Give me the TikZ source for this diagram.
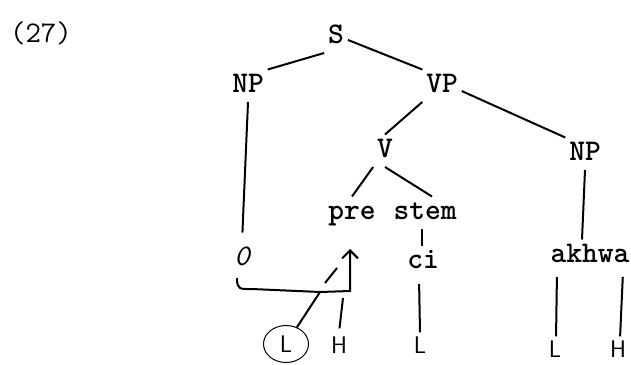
\documentclass[tikz,border=0pt]{standalone}
\usepackage{fontspec}
\usetikzlibrary{arrows.meta,shapes.geometric}
\begin{document}
\begin{tikzpicture}[x=1pt,y=-1pt, line width=2pt,
  lab/.style={font=\fontsize{30}{36}\selectfont\ttfamily\bfseries, inner sep=3pt, text height=18.5pt, text depth=6pt, anchor=base},
  tone/.style={font=\fontsize{24}{28}\selectfont\sffamily, inner sep=3pt, anchor=base}]
\useasboundingbox (0,0) rectangle (631,364);
% labels
\node[lab, font=\fontsize{30}{36}\selectfont\ttfamily] (num) at (41,42) {(27)};
\node[lab] (S) at (336,43) {S};
\node[lab] (NPa) at (248,92) {NP};
\node[lab] (VP) at (442,92) {VP};
\node[lab] (V) at (385,157) {V};
\node[lab] (NPb) at (585,160) {NP};
\node[lab] (pre) at (352,219) {pre};
\node[lab] (stem) at (425,219) {stem};
\node[lab] (ci) at (423,268) {ci};
\node[lab] (akhwa) at (590,262) {akhwa};
\node[lab, font=\fontsize{30}{36}\selectfont\ttfamily\itshape] (zero) at (242,265) {0};
\node[tone, ellipse, draw, line width=1pt, minimum width=45pt, minimum height=37pt, anchor=center] (Lc) at (286,344) {L};
\node[tone] (H1) at (339,353) {H};
\node[tone] (L2) at (420,353) {L};
\node[tone, inner sep=1pt] (L3) at (555,357) {L};
\node[tone, inner sep=1pt] (H3) at (618,357) {H};
% tree lines
\draw (NPa.north east) -- (S.south west);
\draw (S.-15) -- (VP.north west);
\draw (VP.south west) -- (V.north);
\draw (VP.-15) -- (NPb.north west);
\draw (V.south west) -- (pre.north);
\draw (V.south) -- ([xshift=7pt]stem.north);
\draw ([xshift=-3pt]stem.south) -- ([xshift=-1pt]ci.north);
\draw[shorten <=6pt] ([xshift=-4pt]ci.south) -- (L2.north);
\draw[shorten >=10pt] (NPa.south) -- (zero.north);
\draw (NPb.south) -- ([xshift=-8pt]akhwa.north);
\draw[shorten <=5pt, shorten >=2pt] ([xshift=2pt]L3.north |- akhwa.south) -- ([xshift=1pt]L3.north);
\draw[shorten <=5pt, shorten >=2pt] ([xshift=5pt]H3.north |- akhwa.south) -- ([xshift=2pt]H3.north);
% association lines
\coordinate (cross) at (320,292);
\coordinate (corner) at (350,291);
\coordinate (tip) at (350,249);
\coordinate (g1) at (325,283);
\coordinate (g2) at (337,268);
\coordinate (hT) at (343,298);
\draw[-{Straight Barb[length=8pt,width=16pt]}] ([xshift=-5pt,yshift=-3pt]zero.south) .. controls (237,290) and (240,289) .. (252,289) -- (cross) -- (corner) -- (tip);
\draw (Lc) -- (cross);
\draw (g1) -- (g2);
\draw[shorten <=4pt] (H1.north) -- (hT);
\end{tikzpicture}
\end{document}
